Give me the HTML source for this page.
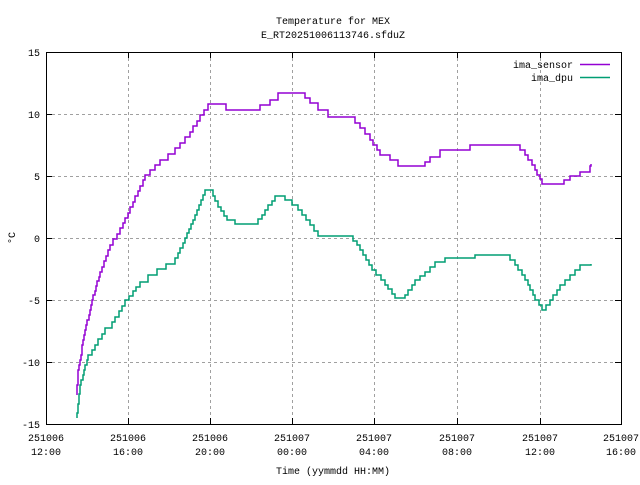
<!DOCTYPE html>
<html><head><meta charset="utf-8"><style>
body{margin:0;background:#fff}
text{font-family:"Liberation Mono",monospace;font-size:10px;fill:#000}
</style></head><body>
<svg id="s" width="640" height="480" xmlns="http://www.w3.org/2000/svg">
<rect width="640" height="480" fill="#fff"/>
<g stroke="#a0a0a0" stroke-dasharray="3,3" stroke-width="1" fill="none">
<path d="M46,114.5H621M46,176.5H621M46,238.5H621M46,300.5H621M46,362.5H621"/>
<path d="M128.5,52V424M210.5,52V424M292.5,52V424M374.5,52V424M457.5,52V424M540.5,52V424"/>
</g>
<g id="ser" fill="none" stroke-width="1.5"></g>
<rect x="46.5" y="52.5" width="575" height="372" fill="none" stroke="#000"/>
<g stroke="#000">
<path d="M46,52.5h6M46,114.5h6M46,176.5h6M46,238.5h6M46,300.5h6M46,362.5h6M46,424.5h6M621,52.5h-6M621,114.5h-6M621,176.5h-6M621,238.5h-6M621,300.5h-6M621,362.5h-6"/>
<path d="M46.5,424v-6M128.5,424v-6M210.5,424v-6M292.5,424v-6M374.5,424v-6M457.5,424v-6M540.5,424v-6M621.5,424v-6M128.5,52v6M210.5,52v6M292.5,52v6M374.5,52v6M457.5,52v6M540.5,52v6"/>
</g>
<g text-anchor="end">
<text x="40" y="56">15</text><text x="40" y="118">10</text><text x="40" y="180">5</text>
<text x="40" y="242">0</text><text x="40" y="304">-5</text><text x="40" y="366">-10</text><text x="40" y="428">-15</text>
</g>
<g text-anchor="middle">
<text x="46" y="441">251006</text><text x="46" y="455">12:00</text>
<text x="128" y="441">251006</text><text x="128" y="455">16:00</text>
<text x="210" y="441">251006</text><text x="210" y="455">20:00</text>
<text x="292" y="441">251007</text><text x="292" y="455">00:00</text>
<text x="374" y="441">251007</text><text x="374" y="455">04:00</text>
<text x="457" y="441">251007</text><text x="457" y="455">08:00</text>
<text x="540" y="441">251007</text><text x="540" y="455">12:00</text>
<text x="621" y="441">251007</text><text x="621" y="455">16:00</text>
<text x="333" y="24">Temperature for MEX</text>
<text x="333" y="38">E_RT20251006113746.sfduZ</text>
<text x="333" y="474">Time (yymmdd HH:MM)</text>
<text transform="translate(15,238) rotate(-90)">°C</text>
</g>
<g text-anchor="end"><text x="573" y="68">ima_sensor</text><text x="573" y="81">ima_dpu</text></g>
<path d="M580,64.5H610" stroke="#9400d3" stroke-width="1.5"/>
<path d="M580,77.5H610" stroke="#009e73" stroke-width="1.5"/>
</svg>
<script>
function steps(pts,color){
  var d="",lx=null;
  for(var i=0;i<pts.length-1;i++){
    var a=pts[i],b=pts[i+1];
    var n=Math.max(1,Math.round(Math.abs(b[1]-a[1])/5));
    for(var k=0;k<=n;k++){
      var x=Math.round(a[0]+(b[0]-a[0])*k/n),y=Math.round(a[1]+(b[1]-a[1])*k/n);
      if(lx===null){d+="M"+x+","+y;}else{d+="H"+x+"V"+y;}
      lx=x;
    }
  }
  var p=document.createElementNS("http://www.w3.org/2000/svg","path");
  p.setAttribute("d",d);p.setAttribute("stroke",color);
  document.getElementById("ser").appendChild(p);
}
steps([[77,395],[78,370],[85,330],[92,300],[100,272],[110,245],[120,228],[128,213],[135,196],[145,175],[160,160],[175,148],[190,132],[200,115],[208,104],[225,104],[226,110],[250,110],[270,100],[278,93],[300,93],[310,103],[318,110],[328,117],[350,117],[360,128],[370,140],[380,155],[390,160],[398,166],[420,166],[430,157],[440,150],[468,150],[470,145],[515,145],[525,155],[535,170],[542,184],[558,184],[570,176],[580,172],[590,166],[591,164]],"#9400d3");
steps([[77,418],[80,385],[88,355],[95,345],[105,328],[112,322],[125,300],[140,282],[148,275],[175,258],[185,238],[195,215],[205,190],[210,190],[218,207],[227,220],[235,224],[255,224],[265,210],[275,196],[285,200],[298,210],[310,225],[318,236],[350,236],[360,250],[372,270],[385,285],[395,298],[405,295],[415,280],[425,272],[435,262],[445,258],[470,258],[475,255],[505,255],[515,265],[525,280],[535,300],[542,310],[550,300],[560,285],[570,275],[580,265],[591,264]],"#009e73");
</script>
</body></html>
